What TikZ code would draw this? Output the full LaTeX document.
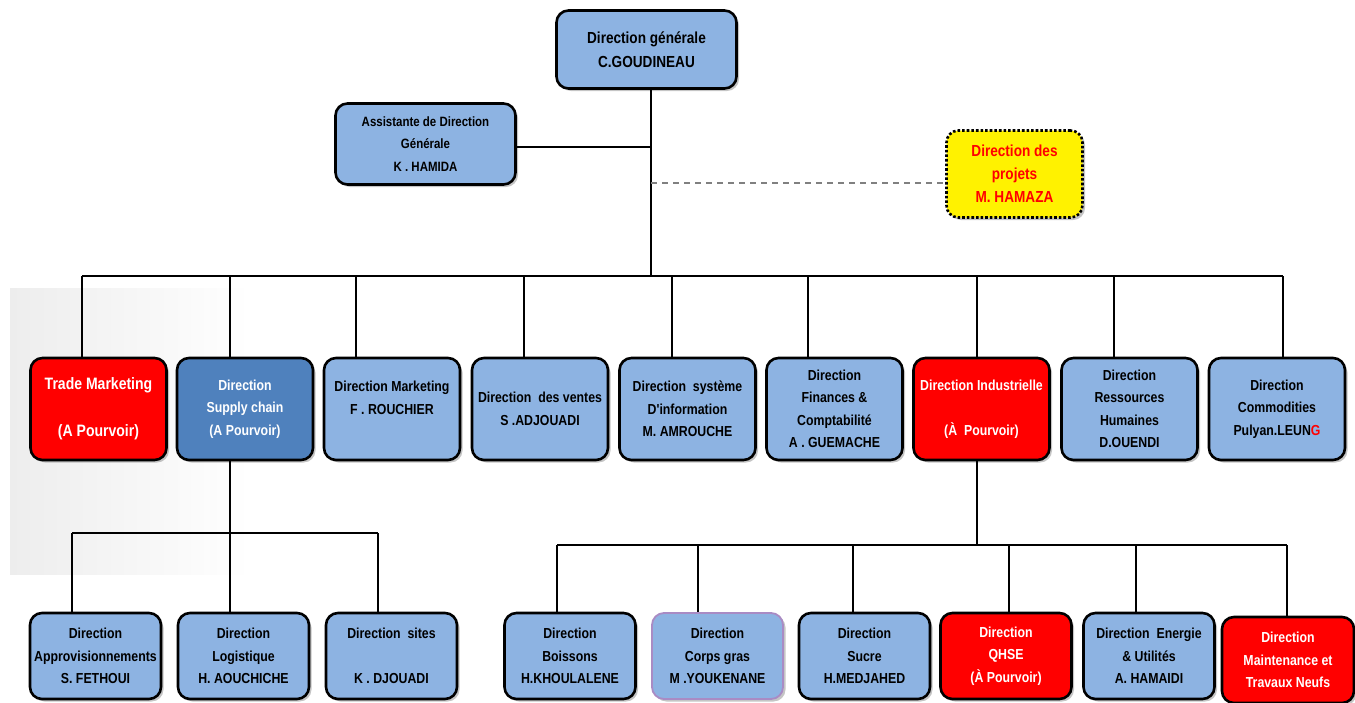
\documentclass[tikz,border=0pt]{standalone}
\usepackage{fontspec}
\newfontfamily\orgfont{Liberation Sans}[UprightFont=* Bold, FakeStretch=0.85]
\usetikzlibrary{shadows,fadings}
\definecolor{lblue}{HTML}{8DB3E2}
\definecolor{dblue}{HTML}{4F81BD}
\definecolor{pborder}{HTML}{A98BC4}
\tikzset{
  orgbox/.style={draw=black, line width=2.6pt, rounded corners=12pt, fill=lblue,
    align=center, inner sep=0pt, font=\orgfont\fontsize{14.5}{22.5}\selectfont,
    drop shadow={shadow xshift=2.5pt, shadow yshift=-2.5pt, opacity=0.45}},
  lvtwo/.style={orgbox, minimum width=136pt, minimum height=102pt},
  lvthree/.style={orgbox, minimum width=131pt, minimum height=86pt},
  redbox/.style={fill=red, text=white},
  conn/.style={line width=2pt, black},
}
\begin{document}
\begin{tikzpicture}[x=1pt,y=-1pt]
\useasboundingbox (0,0) rectangle (1355,702);
\clip (0,0) rectangle (1355,702);
\fill[white] (0,0) rectangle (1355,702);
\fill[black, opacity=0.07, path fading=east] (10,288) rectangle (250,575);

% top
\node[orgbox, minimum width=180pt, minimum height=78pt, font=\orgfont\fontsize{16}{24}\selectfont] (dg) at (646.5,49.5)
  {Direction générale\\C.GOUDINEAU};
\node[orgbox, minimum width=180pt, minimum height=81pt, font=\orgfont\fontsize{13.5}{22.5}\selectfont] (as) at (425.5,144)
  {Assistante de Direction\\Générale\\K . HAMIDA};
\node[orgbox, fill=yellow, text=red, draw=black, dotted, line width=2.6pt, minimum width=136pt, minimum height=87pt,
  font=\orgfont\fontsize{16}{23}\selectfont] (pj) at (1014.5,174)
  {Direction des\\projets\\M. HAMAZA};

% level 2
\node[lvtwo, redbox, font=\orgfont\fontsize{16.5}{23.5}\selectfont] (tm) at (98.5,409) {Trade Marketing\\[0pt]\mbox{}\\(A Pourvoir)};
\node[lvtwo, fill=dblue, text=white] (sc) at (245,409) {Direction\\Supply chain\\(A Pourvoir)};
\node[lvtwo] (mk) at (392,409) {Direction Marketing\\F . ROUCHIER\\\mbox{}};
\node[lvtwo] (vt) at (540,409) {Direction\ \ des ventes\\S .ADJOUADI};
\node[lvtwo] (si) at (687.5,409) {Direction\ \ système\\D'information\\M. AMROUCHE};
\node[lvtwo] (fc) at (834.5,409) {Direction\\Finances \&\\Comptabilité\\A . GUEMACHE};
\node[lvtwo, redbox] (di) at (981.5,409) {Direction Industrielle\\\mbox{}\\(À\ \ Pourvoir)};
\node[lvtwo] (rh) at (1129.5,409) {Direction\\Ressources\\Humaines\\D.OUENDI};
\node[lvtwo] (co) at (1277,409) {Direction\\Commodities\\Pulyan.LEUN\textcolor{red}{G}};

% level 3 left
\node[lvthree] (ap) at (95.5,656) {Direction\\Approvisionnements\\S. FETHOUI};
\node[lvthree] (lg) at (243.5,656) {Direction\\Logistique\\H. AOUCHICHE};
\node[lvthree] (st) at (391.5,656) {Direction\ \ sites\\\mbox{}\\K . DJOUADI};

% level 3 right
\node[lvthree] (bo) at (570,656) {Direction\\Boissons\\H.KHOULALENE};
\node[lvthree, draw=pborder, line width=1.8pt] (cg) at (717.5,656) {Direction\\Corps gras\\M .YOUKENANE};
\node[lvthree] (su) at (864.5,656) {Direction\\Sucre\\H.MEDJAHED};
\node[lvthree, redbox] (qh) at (1006,656) {Direction\\QHSE\\(À Pourvoir)};
\node[lvthree] (en) at (1149,656) {Direction\ \ Energie\\\& Utilités\\A. HAMAIDI};
\node[lvthree, redbox, minimum width=132pt] (mt) at (1288,660) {Direction\\Maintenance et\\Travaux Neufs};

% connectors top
\coordinate (top) at (651,276);
\coordinate (jas) at (651,147);
\coordinate (jpj) at (651,183);
\draw[conn] (dg.south -| top) -- (top);
\draw[conn] (as.east |- jas) -- (jas);
\draw[line width=2.2pt, gray, dash pattern=on 6pt off 5pt] (jpj) -- (pj.west |- jpj);

% main bus
\coordinate (b1) at (82,276);
\coordinate (b2) at (230,276);
\coordinate (b3) at (356,276);
\coordinate (b4) at (524,276);
\coordinate (b5) at (672,276);
\coordinate (b6) at (808,276);
\coordinate (b7) at (977,276);
\coordinate (b8) at (1114,276);
\coordinate (b9) at (1283,276);
\draw[conn] (b1) -- (b9);
\draw[conn] (b1) -- (b1 |- tm.north);
\draw[conn] (b2) -- (b2 |- sc.north);
\draw[conn] (b3) -- (b3 |- mk.north);
\draw[conn] (b4) -- (b4 |- vt.north);
\draw[conn] (b5) -- (b5 |- si.north);
\draw[conn] (b6) -- (b6 |- fc.north);
\draw[conn] (b7) -- (b7 |- di.north);
\draw[conn] (b8) -- (b8 |- rh.north);
\draw[conn] (b9) -- (b9 |- co.north);

% supply chain sub-tree
\coordinate (l0) at (230,533);
\coordinate (l1) at (72,533);
\coordinate (l2) at (230,533);
\coordinate (l3) at (378,533);
\draw[conn] (sc.south -| l0) -- (l0);
\draw[line width=2.6pt, black] (l1) -- (l3);
\draw[conn] (l1) -- (l1 |- ap.north);
\draw[conn] (l2) -- (l2 |- lg.north);
\draw[conn] (l3) -- (l3 |- st.north);

% industrial sub-tree
\coordinate (r0) at (977,545);
\coordinate (r1) at (557,545);
\coordinate (r2) at (698,545);
\coordinate (r3) at (853,545);
\coordinate (r4) at (1009,545);
\coordinate (r5) at (1136,545);
\coordinate (r6) at (1287,545);
\draw[conn] (di.south -| r0) -- (r0);
\draw[line width=2.6pt, black] (r1) -- (r6);
\draw[conn] (r1) -- (r1 |- bo.north);
\draw[conn] (r2) -- (r2 |- cg.north);
\draw[conn] (r3) -- (r3 |- su.north);
\draw[conn] (r4) -- (r4 |- qh.north);
\draw[conn] (r5) -- (r5 |- en.north);
\draw[conn] (r6) -- (r6 |- mt.north);
\end{tikzpicture}
\end{document}
